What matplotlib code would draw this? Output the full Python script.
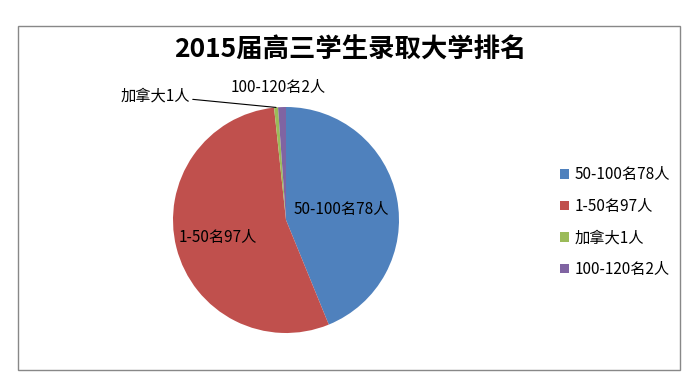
import numpy as np
import matplotlib.pyplot as plt
from matplotlib.patches import Rectangle

plt.rcParams['font.family'] = ['Noto Sans CJK SC', 'DejaVu Sans']

# 数据
labels = ['50-100名78人', '1-50名97人', '加拿大1人', '100-120名2人']
counts = [78, 97, 1, 2]
colors = ['#4F81BD', '#C0504D', '#9BBB59', '#8064A2']
title = '2015届高三学生录取大学排名'

fig = plt.figure(figsize=(7, 3.9), dpi=100)

# 外框
fig.patches.append(Rectangle((18 / 700, 1 - 370 / 390), 662 / 700, 344 / 390,
                             transform=fig.transFigure, fill=False,
                             edgecolor='#888888', linewidth=1))

# 饼图放在左边，圆心约 (286, 220)，半径约 113 像素
cx, cy, r = 286, 220, 113
ax = fig.add_axes([(cx - r) / 700, (390 - cy - r) / 390, 2 * r / 700, 2 * r / 390])
wedges, _ = ax.pie(counts, colors=colors, startangle=90, counterclock=False,
                   radius=1, wedgeprops=dict(linewidth=0))
ax.set_xlim(-1, 1)
ax.set_ylim(-1, 1)
ax.set_aspect('auto')
ax.axis('off')

def mid_angle(w):
    return np.deg2rad((w.theta1 + w.theta2) / 2)

# 内部标签
for w, lab, dist in [(wedges[0], labels[0], 0.5), (wedges[1], labels[1], 0.62)]:
    a = mid_angle(w)
    ax.text(dist * np.cos(a), dist * np.sin(a), lab, ha='center', va='center',
            fontsize=11)

# 小扇区的外部标签
a = mid_angle(wedges[2])
ax.annotate(labels[2], xy=(np.cos(a), np.sin(a)), xytext=(-0.85, 1.1),
            ha='right', va='center', fontsize=11,
            arrowprops=dict(arrowstyle='-', color='black', linewidth=0.8,
                            shrinkA=0, shrinkB=0),
            annotation_clip=False)
ax.text(-0.07, 1.17, labels[3], ha='center', va='center', fontsize=11)

# 标题
fig.text(350 / 700, 1 - 50 / 390, title, ha='center', va='center',
         fontsize=19, fontweight='bold')

# 图例
fig.legend(wedges, labels, loc='center left', bbox_to_anchor=(546 / 700, 1 - 222 / 390),
           frameon=False, fontsize=11, handlelength=0.6, handleheight=0.6,
           handletextpad=0.4, labelspacing=0.95)

fig.savefig('out.png', dpi=100)
